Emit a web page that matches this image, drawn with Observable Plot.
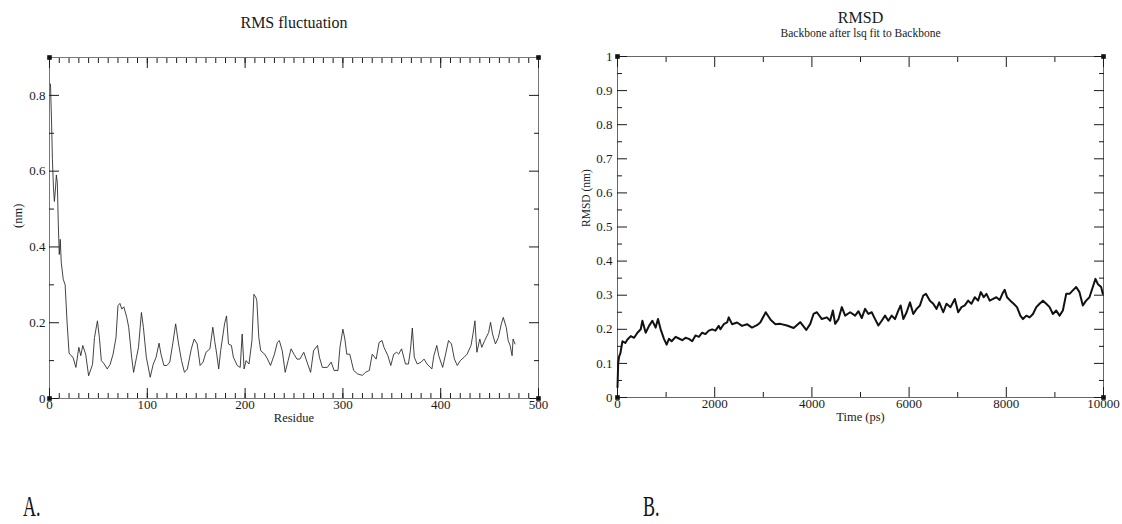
<!DOCTYPE html>
<html><head><meta charset="utf-8">
<script src="https://cdn.jsdelivr.net/npm/d3@7"></script>
<script src="https://cdn.jsdelivr.net/npm/@observablehq/plot@0.6"></script>
<style>
html,body{margin:0;padding:0;background:#fff;}
#page{position:relative;width:1122px;height:524px;overflow:hidden;background:#fff;}
.chart{position:absolute;top:0;}
.chart svg, .chart svg text{font-family:"Liberation Serif","Times New Roman",serif !important;}
.panel{position:absolute;top:491px;font-family:"Liberation Serif",serif;font-size:30px;line-height:1;color:#111;transform:scaleX(0.6);transform-origin:left top;}
</style></head><body>
<div id="page">
  <div id="a" class="chart" style="left:0"></div>
  <div id="b" class="chart" style="left:560px"></div>
  <div class="panel" style="left:23px">A.</div>
  <div class="panel" style="left:643px">B.</div>
</div>
<script>
// ---- Chart A: RMS fluctuation ----
const residue = [1,2,3,4,5,6,7,8,9,10,
  11,12,14,16,18,20,22,24,27,30,
  32,34,37,40,44,46,49,51,53,56,
  59,62,65,68,70,72,74,76,79,81,
  84,86,89,91,94,96,99,103,106,109,
  112,114,117,120,123,126,129,130,132,135,
  138,141,145,148,151,154,157,160,164,167,
  169,171,173,175,179,181,183,186,188,192,
  195,197,199,201,204,207,209,211,212,214,
  216,220,223,226,230,233,235,238,241,244,
  247,250,253,256,260,264,267,270,274,276,
  279,284,288,291,295,297,300,302,304,307,
  311,315,320,323,327,330,334,337,340,342,
  346,349,352,355,357,360,364,367,369,371,
  373,376,380,383,386,391,393,396,398,402,
  405,408,411,414,417,420,424,427,431,433,
  435,437,440,442,445,449,451,453,456,459,
  462,464,467,469,471,473,474,476];
const rmsf = [0.83,0.74,0.63,0.56,0.52,0.55,0.59,0.57,0.46,0.38,
  0.42,0.36,0.315,0.30,0.20,0.12,0.113,0.109,0.082,0.135,
  0.113,0.14,0.117,0.06,0.09,0.161,0.205,0.161,0.10,0.091,
  0.078,0.09,0.117,0.161,0.245,0.251,0.236,0.242,0.214,0.188,
  0.109,0.069,0.109,0.135,0.227,0.188,0.109,0.056,0.09,0.109,
  0.146,0.117,0.087,0.087,0.096,0.144,0.197,0.179,0.144,0.10,
  0.069,0.078,0.131,0.157,0.144,0.087,0.096,0.122,0.131,0.188,
  0.15,0.117,0.078,0.126,0.197,0.218,0.144,0.14,0.109,0.087,
  0.082,0.17,0.078,0.10,0.091,0.153,0.275,0.267,0.258,0.161,
  0.126,0.117,0.104,0.087,0.117,0.148,0.153,0.126,0.069,0.10,
  0.131,0.117,0.104,0.104,0.122,0.091,0.069,0.126,0.14,0.109,
  0.082,0.082,0.096,0.074,0.074,0.135,0.183,0.157,0.117,0.117,
  0.074,0.065,0.061,0.069,0.074,0.117,0.104,0.148,0.153,0.135,
  0.113,0.087,0.117,0.122,0.117,0.131,0.091,0.091,0.126,0.186,
  0.109,0.091,0.096,0.104,0.091,0.078,0.113,0.14,0.113,0.082,
  0.117,0.153,0.144,0.104,0.087,0.10,0.109,0.117,0.14,0.17,
  0.205,0.122,0.157,0.135,0.153,0.174,0.201,0.17,0.144,0.161,
  0.197,0.214,0.188,0.153,0.14,0.113,0.157,0.144];
const rmsfXDomain = [0, 500];
const rmsfYDomain = [0, 0.9];
const rmsfXMajor = [0, 100, 200, 300, 400, 500];
const rmsfYMajor = [0, 0.2, 0.4, 0.6, 0.8];

// ---- Chart B: RMSD ----
const time = [0,14,33,60,102,160,205,273,342,410,
  478,512,580,649,717,785,833,888,956,1011,
  1059,1114,1196,1264,1332,1400,1469,1537,1605,1674,
  1742,1810,1879,1947,2015,2083,2118,2186,2255,2289,
  2357,2460,2562,2665,2767,2870,2938,3050,3150,3250,
  3350,3487,3624,3760,3884,3966,4034,4103,4205,4308,
  4376,4431,4479,4547,4616,4684,4787,4889,4958,5026,
  5094,5163,5231,5300,5368,5436,5505,5573,5642,5710,
  5778,5826,5881,5949,6018,6086,6155,6223,6291,6346,
  6428,6497,6565,6620,6702,6770,6852,6941,7010,7078,
  7146,7215,7283,7352,7420,7475,7537,7591,7659,7728,
  7796,7865,7919,7967,8015,8083,8152,8220,8289,8343,
  8412,8480,8549,8617,8685,8754,8822,8891,8959,9027,
  9096,9164,9233,9301,9369,9438,9506,9575,9643,9711,
  9780,9835,9882,9951,9985];
const rmsd = [0.03,0.10,0.12,0.13,0.165,0.16,0.17,0.18,0.175,0.19,
  0.20,0.225,0.19,0.21,0.225,0.205,0.23,0.20,0.172,0.155,
  0.172,0.165,0.178,0.173,0.168,0.175,0.172,0.165,0.182,0.178,
  0.19,0.186,0.196,0.20,0.196,0.21,0.20,0.215,0.22,0.235,
  0.215,0.22,0.21,0.215,0.205,0.212,0.22,0.25,0.228,0.215,
  0.216,0.211,0.204,0.221,0.198,0.216,0.245,0.25,0.23,0.235,
  0.225,0.255,0.216,0.23,0.265,0.24,0.25,0.24,0.253,0.233,
  0.26,0.245,0.25,0.23,0.211,0.225,0.24,0.225,0.24,0.23,
  0.255,0.27,0.23,0.25,0.279,0.245,0.26,0.27,0.299,0.304,
  0.284,0.275,0.26,0.279,0.25,0.275,0.265,0.289,0.25,0.265,
  0.27,0.284,0.275,0.294,0.284,0.309,0.294,0.304,0.284,0.289,
  0.294,0.286,0.304,0.316,0.294,0.284,0.275,0.265,0.24,0.23,
  0.24,0.235,0.245,0.265,0.275,0.284,0.275,0.265,0.245,0.255,
  0.24,0.255,0.304,0.304,0.314,0.324,0.309,0.27,0.284,0.294,
  0.324,0.348,0.333,0.324,0.304];
const rmsdXDomain = [0, 10000];
const rmsdYDomain = [0, 1];
const rmsdXMajor = [0, 2000, 4000, 6000, 8000, 10000];
const rmsdYMajor = [0, 0.1, 0.2, 0.3, 0.4, 0.5, 0.6, 0.7, 0.8, 0.9, 1];

const ink = "#1a1a1a";
const font = "'Liberation Serif', 'Times New Roman', serif";

function inwardTicks(majorX, minorX, majorY, minorY) {
  const marks = [];
  for (const anchor of ["bottom", "top"]) {
    marks.push(Plot.axisX(minorX, {anchor, tickSize: -5, tickFormat: () => "", label: null, stroke: ink}));
    marks.push(Plot.axisX(majorX, {anchor, tickSize: -10, tickFormat: () => "", label: null, stroke: ink}));
  }
  for (const anchor of ["left", "right"]) {
    marks.push(Plot.axisY(minorY, {anchor, tickSize: -5, tickFormat: () => "", label: null, stroke: ink}));
    marks.push(Plot.axisY(majorY, {anchor, tickSize: -10, tickFormat: () => "", label: null, stroke: ink}));
  }
  return marks;
}
function corners(xd, yd) {
  return [[xd[0], yd[0]], [xd[1], yd[0]], [xd[0], yd[1]], [xd[1], yd[1]]];
}
const fmtY = d => (d === 0 || d === 1) ? String(d) : d.toFixed(1);

// Chart A
const dataA = residue.map((r, i) => ({r, v: rmsf[i]}));
const chartA = Plot.plot({
  width: 560, height: 440,
  marginLeft: 49, marginRight: 22, marginTop: 57, marginBottom: 42,
  style: {fontFamily: font, fontSize: "12px", color: ink, background: "transparent"},
  x: {domain: rmsfXDomain, label: null},
  y: {domain: rmsfYDomain, label: null},
  marks: [
    Plot.frame({stroke: "#777"}),
    ...inwardTicks(rmsfXMajor, d3.range(0, 501, 10), rmsfYMajor, d3.range(0.1, 0.9, 0.2)),
    Plot.axisX(rmsfXMajor, {anchor: "bottom", tickSize: 0, tickPadding: 1, tickFormat: d => String(d), label: null, fontSize: 13}),
    Plot.axisY(rmsfYMajor, {anchor: "left", tickSize: 0, tickPadding: 4, tickFormat: fmtY, label: null, fontSize: 13}),
    Plot.line(dataA, {x: "r", y: "v", stroke: "#222", strokeWidth: 0.85}),
    Plot.dot(corners(rmsfXDomain, rmsfYDomain), {x: d => d[0], y: d => d[1], symbol: "square", r: 2.6, fill: "#111"}),
    Plot.text(["RMS fluctuation"], {text: d => d, frameAnchor: "top", dy: -35, fontSize: 16, lineAnchor: "middle"}),
    Plot.text(["Residue"], {text: d => d, frameAnchor: "bottom", dy: 19, fontSize: 12.5, lineAnchor: "middle"}),
    Plot.text(["(nm)"], {text: d => d, frameAnchor: "left", dx: -32, rotate: -90, fontSize: 12.5, lineAnchor: "middle"})
  ]
});
document.getElementById("a").append(chartA);

// Chart B
const dataB = time.map((t, i) => ({t, v: rmsd[i]}));
const chartB = Plot.plot({
  width: 562, height: 440,
  marginLeft: 57, marginRight: 19, marginTop: 56, marginBottom: 43,
  style: {fontFamily: font, fontSize: "12px", color: ink, background: "transparent"},
  x: {domain: rmsdXDomain, label: null},
  y: {domain: rmsdYDomain, label: null},
  marks: [
    Plot.frame({stroke: "#666"}),
    ...inwardTicks(rmsdXMajor, d3.range(1000, 10000, 2000), rmsdYMajor, d3.range(0.05, 1, 0.1)),
    Plot.axisX(rmsdXMajor, {anchor: "bottom", tickSize: 0, tickPadding: 1, tickFormat: d => String(d), label: null, fontSize: 13}),
    Plot.axisY(rmsdYMajor, {anchor: "left", tickSize: 0, tickPadding: 5, tickFormat: fmtY, label: null, fontSize: 13}),
    Plot.line(dataB, {x: "t", y: "v", stroke: "#111", strokeWidth: 2}),
    Plot.dot(corners(rmsdXDomain, rmsdYDomain), {x: d => d[0], y: d => d[1], symbol: "square", r: 2.6, fill: "#111"}),
    Plot.text(["RMSD"], {text: d => d, frameAnchor: "top", dy: -39, fontSize: 16, lineAnchor: "middle"}),
    Plot.text(["Backbone after lsq fit to Backbone"], {text: d => d, frameAnchor: "top", dy: -23, fontSize: 11.5, lineAnchor: "middle"}),
    Plot.text(["Time (ps)"], {text: d => d, frameAnchor: "bottom", dy: 19, fontSize: 12.5, lineAnchor: "middle"}),
    Plot.text(["RMSD (nm)"], {text: d => d, frameAnchor: "left", dx: -31, rotate: -90, fontSize: 11.5, lineAnchor: "middle"})
  ]
});
document.getElementById("b").append(chartB);
</script>
</body></html>
